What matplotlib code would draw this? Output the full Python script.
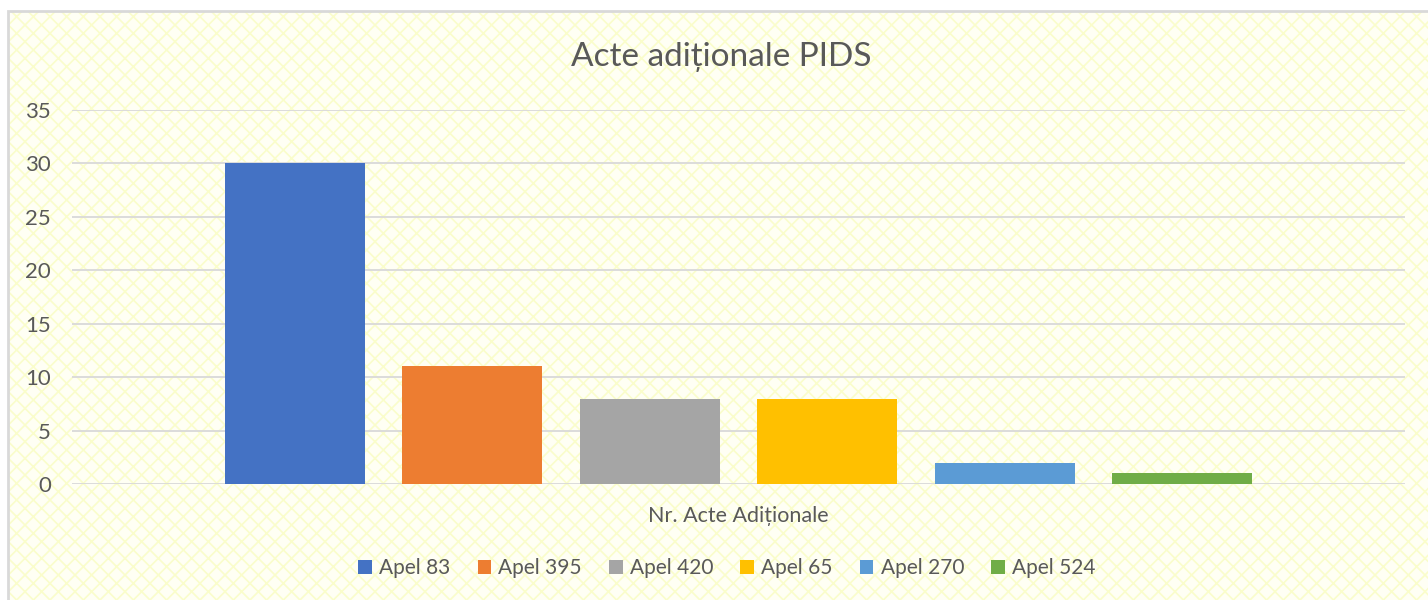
import matplotlib.pyplot as plt
from matplotlib.patches import Rectangle, Patch
import numpy as np

series = ['Apel 83', 'Apel 395', 'Apel 420', 'Apel 65', 'Apel 270', 'Apel 524']
values = [30, 11, 8, 8, 2, 1]
colors = ['#4472C4', '#ED7D31', '#A5A5A5', '#FFC000', '#5B9BD5', '#70AD47']
yticks = [0, 5, 10, 15, 20, 25, 30, 35]

plt.rcParams['font.family'] = ['Lato', 'DejaVu Sans']
plt.rcParams['hatch.linewidth'] = 1.2
txt = '#595959'

fig = plt.figure(figsize=(14.28, 6), dpi=100)
fig.patch.set_facecolor('white')

# chart area background, pale yellow pattern (cut off on right and bottom)
area = (8 / 1428, -0.05)
aw, ah = 1.1, 1 - 11 / 600 + 0.05
fig.patches.append(Rectangle(area, aw, ah, transform=fig.transFigure,
                             facecolor='#FFFFF4', edgecolor='#FAFDCB', linewidth=0,
                             hatch='xx', zorder=-10))
fig.patches.append(Rectangle(area, aw, ah, transform=fig.transFigure,
                             facecolor='none', edgecolor='#D9D9D9', linewidth=2,
                             zorder=-9))

ax = fig.add_axes([72 / 1428, 1 - 484 / 600, (1405 - 72) / 1428, (484 - 110) / 600])
ax.set_facecolor('none')

x = np.arange(len(series))
ax.bar(x, values, width=0.79, color=colors, zorder=3)

ax.set_xlim(2.5 - 3.756, 2.5 + 3.756)
ax.set_ylim(0, 35)
ax.set_yticks(yticks)
ax.set_xticks([])
ax.yaxis.grid(True, color='#D9D9D9', linewidth=1.3, zorder=0)
ax.tick_params(axis='y', length=0, pad=15, labelsize=16, labelcolor=txt)
for s in ax.spines.values():
    s.set_visible(False)

fig.text(721 / 1428, 1 - 57 / 600, 'Acte adiționale PIDS', ha='center', va='center',
         fontsize=24, color=txt)
fig.text(738 / 1428, 1 - 516 / 600, 'Nr. Acte Adiționale', ha='center', va='center',
         fontsize=15.5, color=txt)

handles = [Patch(facecolor=c, edgecolor='none') for c in colors]
fig.legend(handles, series, loc='center', bbox_to_anchor=(727 / 1428, 1 - 568 / 600),
           ncol=6, frameon=False, fontsize=15, labelcolor=txt,
           handlelength=0.65, handleheight=0.65, handletextpad=0.35, columnspacing=1.3)

fig.savefig('out.png', dpi=100, facecolor='white')
